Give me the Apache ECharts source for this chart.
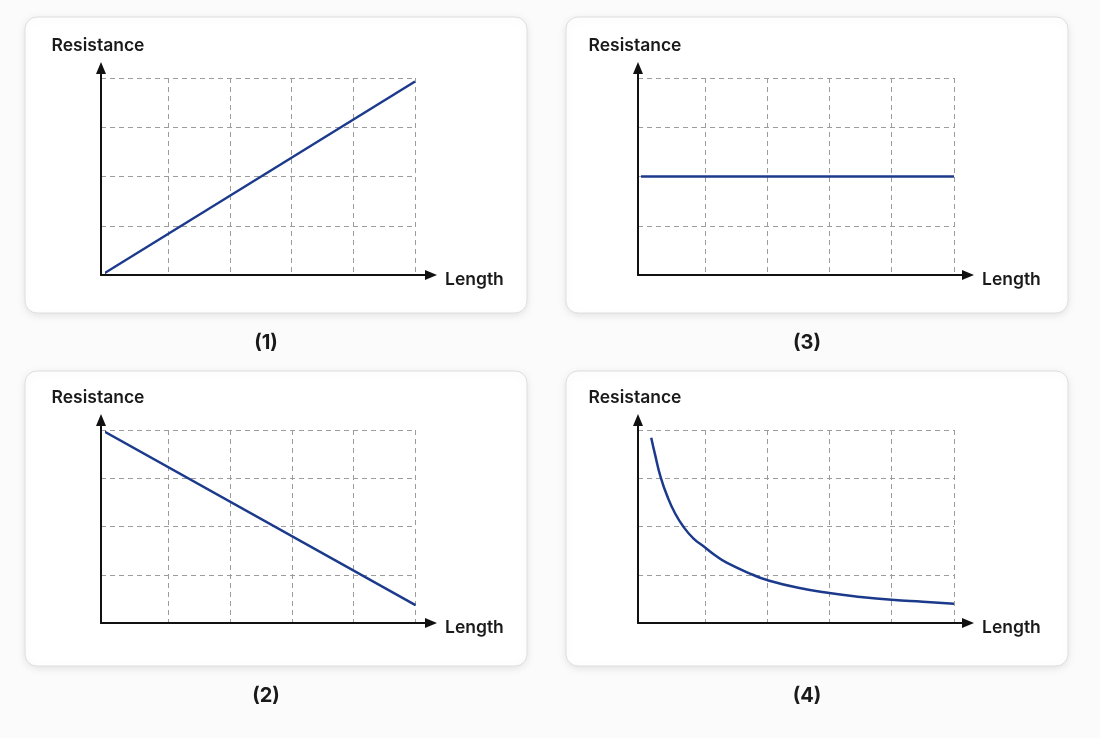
<!DOCTYPE html>
<html>
<head>
<meta charset="utf-8">
<title>Resistance vs Length</title>
<script src="https://cdn.jsdelivr.net/npm/echarts@6/dist/echarts.min.js"></script>
<style>
  html, body { margin: 0; padding: 0; background: #fbfbfb; }
  #main { width: 1100px; height: 738px; }
</style>
</head>
<body>
<div id="main"></div>
<script>
// data (length 0..5, resistance 0..4 grid units)
// the drawn axes sit a hair left of length 0, so the straight lines start slightly below 0
var lengthMax = 5;
var resistanceMax = 4;
var linearUp = [[-0.08, 0], [5, 3.93]];
var linearDown = [[-0.08, 4], [5, 0.37]];
var constant = [[-0.06, 2], [5, 2]];
var inverse = [[0.14, 3.84], [0.2, 3.5], [0.29, 3.03], [0.4, 2.62], [0.52, 2.28], [0.66, 1.99],
  [0.82, 1.75], [1.0, 1.57], [1.17, 1.4], [1.35, 1.25], [1.77, 1.0], [2.0, 0.89], [2.5, 0.73],
  [3.0, 0.62], [3.5, 0.54], [4.0, 0.48], [4.5, 0.44], [5.0, 0.4]];
var captions = ['(1)', '(2)', '(3)', '(4)'];
var xName = 'Length';
var yName = 'Resistance';

var chart = echarts.init(document.getElementById('main'));

// panel layout: card box, dashed cell box, axis origin, arrow tips, caption spot
var panels = [
  { data: linearUp, smooth: false, card: [25, 17, 502, 296], plot: [106.5, 78, 415, 275], origin: [101, 275], tip: [437, 62], cap: [266, 343] },
  { data: linearDown, smooth: false, card: [25, 371, 502, 295], plot: [106.5, 430, 415.5, 623], origin: [101, 623], tip: [437, 414], cap: [266, 696] },
  { data: constant, smooth: false, card: [566, 17, 502, 296], plot: [642.5, 78, 954, 275], origin: [638, 275], tip: [974, 62], cap: [807, 343] },
  { data: inverse, smooth: 0.5, card: [566, 371, 502, 295], plot: [642.5, 430, 954, 623], origin: [638, 623], tip: [974, 414], cap: [807, 696] }
];

var W = 1100, H = 738;
var grids = [], xAxes = [], yAxes = [], series = [], graphics = [];
var dashColor = '#9c9c9c';
var lineColor = '#1c3a8c';
var labelFont = { fontFamily: 'Inter', fontSize: 17.5, fontWeight: 600, color: '#1a1a1a' };
var dashed = { color: dashColor, width: 1, type: [5, 4] };
var bare = { axisLine: { show: false }, axisTick: { show: false }, axisLabel: { show: false } };

panels.forEach(function (p, i) {
  var pl = p.plot;
  var g = 3 * i;
  // grid A: data + vertical dashed lines
  grids.push({ left: pl[0], top: pl[1], width: pl[2] - pl[0], height: pl[3] - pl[1] });
  // grid B: horizontal dashed lines running from the axis
  grids.push({ left: p.origin[0], top: pl[1], width: pl[2] - p.origin[0], height: pl[3] - pl[1] });
  // grid C: axis lines with arrows
  grids.push({ left: p.origin[0], top: p.tip[1] + 6, right: W - (p.tip[0] - 6), bottom: H - p.origin[1] });

  xAxes.push(Object.assign({
    type: 'value', gridIndex: g, min: 0, max: lengthMax, interval: 1,
    splitLine: { show: true, showMinLine: false, lineStyle: dashed }
  }, bare));
  yAxes.push(Object.assign({
    type: 'value', gridIndex: g, min: 0, max: resistanceMax, interval: 1,
    splitLine: { show: false }
  }, bare));

  xAxes.push(Object.assign({
    type: 'value', gridIndex: g + 1, min: 0, max: 1, splitLine: { show: false }
  }, bare));
  yAxes.push(Object.assign({
    type: 'value', gridIndex: g + 1, min: 0, max: resistanceMax, interval: 1,
    splitLine: { show: true, showMinLine: false, lineStyle: dashed }
  }, bare));

  xAxes.push({
    type: 'value', gridIndex: g + 2, min: 0, max: 1,
    axisLine: { show: true, symbol: ['none', 'triangle'], symbolSize: [10, 12],
      lineStyle: { color: '#111', width: 2 } },
    axisTick: { show: false }, axisLabel: { show: false }, splitLine: { show: false },
    name: xName, nameLocation: 'end', nameGap: 14,
    nameTextStyle: Object.assign({ verticalAlign: 'top', lineHeight: 9 }, labelFont)
  });
  yAxes.push({
    type: 'value', gridIndex: g + 2, min: 0, max: 1,
    axisLine: { show: true, symbol: ['none', 'triangle'], symbolSize: [10, 12],
      lineStyle: { color: '#111', width: 2 } },
    axisTick: { show: false }, axisLabel: { show: false }, splitLine: { show: false },
    name: yName, nameLocation: 'end', nameGap: 22,
    nameTextStyle: Object.assign({ align: 'center', verticalAlign: 'middle', padding: [0, 6, 0, 0] }, labelFont)
  });

  series.push({
    type: 'line', xAxisIndex: g, yAxisIndex: g,
    data: p.data, smooth: p.smooth, showSymbol: false, clip: false,
    lineStyle: { color: lineColor, width: 2.5 }, z: 5
  });

  graphics.push({
    type: 'rect', z: -10,
    shape: { x: p.card[0], y: p.card[1], width: p.card[2], height: p.card[3], r: 12 },
    style: { fill: '#fff', stroke: '#dedede', lineWidth: 1,
      shadowBlur: 8, shadowOffsetY: 2, shadowColor: 'rgba(0,0,0,0.10)' }
  });
  graphics.push({
    type: 'text', x: p.cap[0], y: p.cap[1],
    style: { text: captions[i], fontFamily: 'Inter', fontSize: 20, fontWeight: 700,
      fill: '#1a1a1a', align: 'center', verticalAlign: 'middle' }
  });
});

chart.setOption({
  animation: false,
  grid: grids,
  xAxis: xAxes,
  yAxis: yAxes,
  series: series,
  graphic: graphics
});
</script>
</body>
</html>
